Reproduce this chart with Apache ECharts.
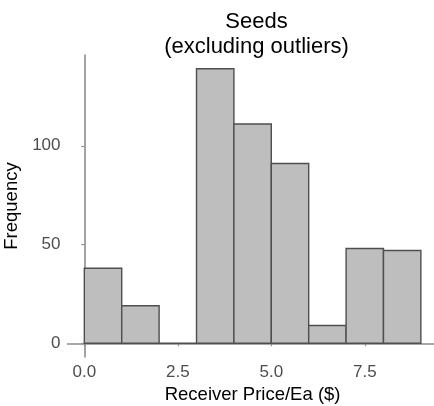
<!DOCTYPE html>
<html>
<head>
<meta charset="utf-8">
<script src="https://cdn.jsdelivr.net/npm/echarts@6/dist/echarts.min.js"></script>
<style>
html,body{margin:0;padding:0;background:#fff;}
#chart{width:434px;height:406px;}
</style>
</head>
<body>
<div id="chart"></div>
<script>
var binStarts = [0, 1, 2, 3, 4, 5, 6, 7, 8];
var binEnds = [1, 2, 3, 4, 5, 6, 7, 8, 9];
var counts = [38, 19, 0, 139, 111, 91, 9, 48, 47];
var xTicks = [0, 2.5, 5, 7.5];
var xTickLabels = ['0.0', '2.5', '5.0', '7.5'];
var yTicks = [0, 50, 100];
var yTickLabels = ['0', '50', '100'];
var titleText = 'Seeds\n(excluding outliers)';
var xTitle = 'Receiver Price/Ea ($)';
var yTitle = 'Frequency';

var data = binStarts.map(function (s, i) { return [s, binEnds[i], counts[i]]; });
var FONT = '"Liberation Sans", Arial, sans-serif';
var axisColor = '#8c8c8c';

var chart = echarts.init(document.getElementById('chart'), null, {renderer: 'canvas'});
chart.setOption({
  animation: false,
  backgroundColor: '#ffffff',
  title: {
    text: titleText,
    left: 251.5,
    top: 4,
    textAlign: 'center',
    textStyle: {fontFamily: FONT, fontSize: 22, fontWeight: 'normal', color: '#000000', lineHeight: 25}
  },
  grid: {left: 67.5, top: 55, width: 370.2, height: 302, containLabel: false, outerBoundsMode: 'none'},
  xAxis: {
    type: 'value',
    min: -0.45,
    max: 9.45,
    name: xTitle,
    nameLocation: 'middle',
    nameGap: 28,
    nameTextStyle: {fontFamily: FONT, fontSize: 18.5, color: '#000000'},
    axisLine: {show: true, lineStyle: {color: axisColor, width: 1.6}},
    axisTick: {show: true, length: 3, customValues: xTicks, lineStyle: {color: axisColor, width: 1.2}},
    axisLabel: {
      customValues: xTicks,
      margin: 7,
      fontFamily: FONT, fontSize: 17, color: '#4d4d4d',
      formatter: function (v) { var i = xTicks.indexOf(v); return i >= 0 ? xTickLabels[i] : ''; }
    },
    splitLine: {show: false}
  },
  yAxis: {
    type: 'value',
    min: -6.95,
    max: 145.95,
    name: yTitle,
    nameLocation: 'middle',
    nameGap: 40,
    nameTextStyle: {fontFamily: FONT, fontSize: 18.5, color: '#000000'},
    axisLine: {show: true, lineStyle: {color: axisColor, width: 1.6}},
    axisTick: {show: true, length: 3, customValues: yTicks, lineStyle: {color: axisColor, width: 1.2}},
    axisLabel: {
      customValues: yTicks,
      margin: 7,
      fontFamily: FONT, fontSize: 17, color: '#4d4d4d',
      formatter: function (v) { var i = yTicks.indexOf(v); return i >= 0 ? yTickLabels[i] : ''; }
    },
    splitLine: {show: false}
  },
  series: [{
    type: 'custom',
    clip: false,
    encode: {x: [0, 1], y: 2},
    data: data,
    renderItem: function (params, api) {
      var p0 = api.coord([api.value(0), 0]);
      var p1 = api.coord([api.value(1), api.value(2)]);
      return {
        type: 'rect',
        shape: {x: p0[0], y: p1[1], width: p1[0] - p0[0], height: p0[1] - p1[1]},
        style: {fill: '#bebebe', stroke: '#4f4f4f', lineWidth: 1.4}
      };
    }
  }]
});
</script>
</body>
</html>
